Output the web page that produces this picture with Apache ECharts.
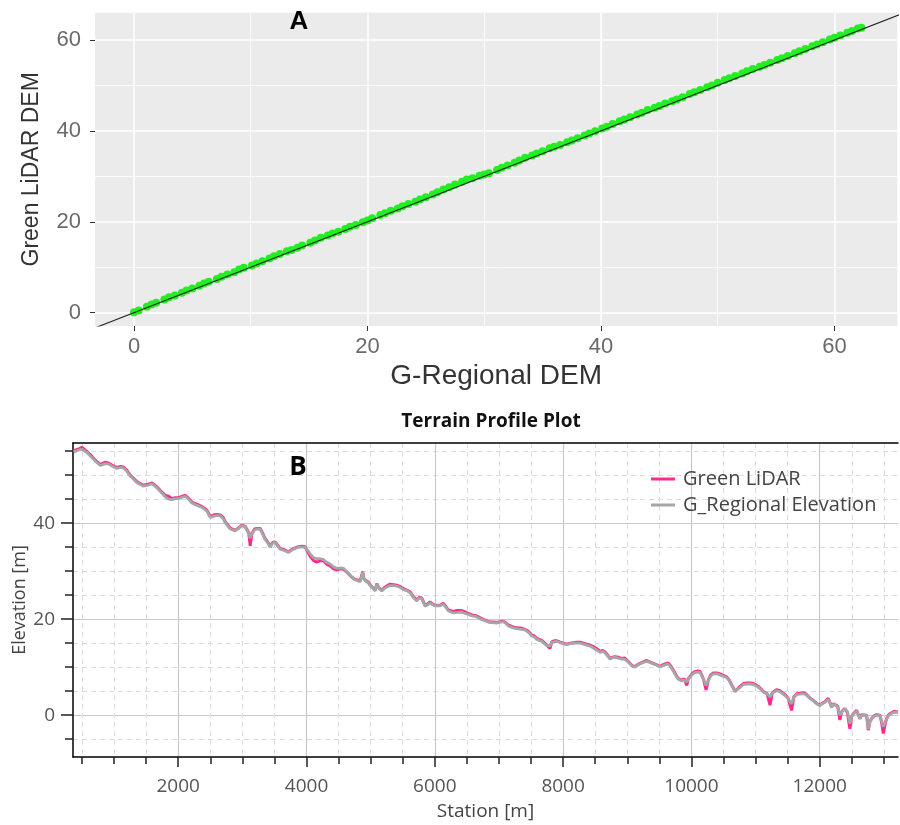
<!DOCTYPE html>
<html>
<head>
<meta charset="utf-8">
<script src="https://cdn.jsdelivr.net/npm/echarts@6/dist/echarts.min.js"></script>
<style>html,body{margin:0;padding:0;background:#fff}#c{width:900px;height:825px}</style>
</head>
<body>
<div id="c"></div>
<script>
// ---------- Panel A: scatter G-Regional DEM vs Green LiDAR DEM ----------
const regionalDEM = [0.0,0.4,1.1,1.5,1.9,2.6,3.0,3.5,4.1,4.5,5.0,5.6,6.0,6.4,7.1,7.5,8.0,8.6,9.0,9.4,10.1,10.5,11.0,11.6,12.0,12.5,13.1,13.5,14.0,14.4,15.1,15.5,16.0,16.6,17.0,17.5,18.1,18.5,19.0,19.6,20.0,20.4,21.1,21.5,22.0,22.6,23.0,23.5,24.1,24.5,25.0,25.6,26.0,26.5,27.0,27.5,28.1,28.5,29.0,29.6,30.0,30.4,31.1,31.5,32.0,32.6,33.0,33.5,34.1,34.5,35.0,35.6,36.0,36.5,37.1,37.5,38.0,38.6,39.0,39.5,40.1,40.5,41.0,41.6,42.0,42.5,43.1,43.5,44.0,44.6,45.0,45.5,46.1,46.5,47.0,47.6,48.0,48.5,49.1,49.5,50.0,50.6,51.0,51.5,52.1,52.5,53.0,53.6,54.0,54.5,55.1,55.5,56.0,56.6,57.0,57.5,58.1,58.5,59.0,59.6,60.0,60.5,61.1,61.5,62.0,62.3];
const lidarDEM = [0.1,0.5,1.3,1.8,2.2,2.9,3.4,3.8,4.4,4.9,5.3,5.9,6.4,6.8,7.4,7.9,8.4,8.9,9.5,9.9,10.4,10.8,11.3,11.9,12.4,12.9,13.5,13.8,14.3,14.8,15.4,15.9,16.5,17.0,17.4,17.8,18.4,18.9,19.3,19.9,20.3,20.8,21.5,21.9,22.4,22.9,23.4,23.9,24.4,24.9,25.4,26.0,26.5,27.1,27.6,28.2,28.8,29.3,29.6,30.1,30.4,30.7,31.4,31.9,32.4,33.0,33.5,34.1,34.6,35.0,35.5,36.2,36.5,36.9,37.5,37.9,38.4,39.0,39.4,39.9,40.5,40.9,41.5,42.1,42.5,43.0,43.6,44.0,44.6,45.1,45.5,46.0,46.5,46.9,47.4,48.1,48.5,49.0,49.6,50.0,50.6,51.2,51.6,52.1,52.6,53.1,53.6,54.1,54.5,55.0,55.6,56.0,56.5,57.1,57.5,58.0,58.6,59.0,59.5,60.1,60.5,61.0,61.6,62.0,62.5,62.7];
const oneToOne = [-5, 70];
const demTicks = [0, 20, 40, 60];
const demMinor = [10, 30, 50];

// ---------- Panel B: terrain profile ----------
const station = [369,440,500,578,630,680,735,785,863,920,
967,1045,1100,1148,1200,1252,1300,1357,1460,1530,
1590,1640,1693,1750,1797,1850,1902,1950,2005,2060,
2109,2160,2213,2260,2316,2380,2447,2499,2550,2603,
2654,2700,2732,2810,2888,2940,2992,3040,3070,3100,
3122,3148,3190,3226,3278,3320,3355,3400,3433,3470,
3511,3550,3589,3650,3718,3760,3796,3874,3930,3978,
4020,4057,4110,4161,4220,4264,4320,4368,4420,4473,
4530,4576,4630,4680,4720,4758,4836,4877,4890,4914,
4960,4992,5030,5070,5096,5130,5174,5225,5303,5360,
5407,5460,5511,5570,5615,5666,5719,5760,5797,5848,
5890,5926,5970,6004,6082,6134,6170,6212,6290,6350,
6417,6470,6523,6580,6627,6680,6731,6800,6861,6910,
6964,7020,7068,7110,7146,7200,7250,7300,7354,7400,
7432,7470,7511,7550,7589,7630,7667,7700,7745,7796,
7822,7860,7900,7940,7978,8056,8110,8160,8210,8263,
8320,8367,8420,8471,8520,8575,8615,8652,8690,8731,
8770,8809,8860,8913,8960,8991,9030,9069,9120,9160,
9198,9250,9302,9350,9405,9460,9510,9570,9639,9680,
9717,9760,9795,9848,9890,9927,9950,9979,10020,10058,
10100,10136,10186,10228,10264,10300,10342,10400,10446,10500,
10550,10590,10628,10680,10720,10758,10810,10862,10920,10966,
11010,11043,11090,11121,11180,11225,11260,11326,11380,11430,
11480,11508,11560,11596,11640,11690,11730,11768,11810,11846,
11890,11924,11960,12002,12040,12080,12132,12160,12184,12210,
12236,12280,12314,12340,12392,12430,12470,12500,12522,12575,
12627,12650,12679,12731,12757,12780,12809,12850,12887,12939,
12965,12991,13020,13043,13080,13121,13160,13220];
const gRegional = [54.8,55.2,55.4,54.7,54.0,53.3,52.6,52.0,52.4,52.3,
51.9,51.4,51.6,51.5,50.8,49.8,49.2,48.4,47.7,47.9,
48.2,47.7,47.0,46.2,45.5,45.0,44.9,45.1,45.1,45.4,
45.6,45.0,44.2,43.9,43.6,43.2,42.5,41.2,41.4,41.6,
41.5,41.0,40.1,38.8,38.4,38.9,39.5,39.3,39.0,37.8,
36.9,37.7,38.6,38.8,38.7,37.6,36.6,35.8,35.0,35.8,
36.0,35.2,34.6,34.3,33.9,34.3,34.6,35.0,35.0,35.0,
34.3,33.6,32.8,32.6,32.6,32.4,31.8,31.5,30.9,30.6,
30.7,30.6,29.9,29.2,28.6,28.2,27.8,29.8,28.5,28.0,
27.6,27.0,26.5,25.9,27.3,26.4,25.9,26.5,27.0,27.0,
26.9,26.6,26.2,25.9,25.5,24.5,23.8,24.5,24.2,22.7,
23.0,23.4,23.0,22.8,22.8,23.1,22.5,21.7,21.3,21.4,
21.5,21.2,21.0,20.7,20.6,20.3,19.9,19.6,19.3,19.3,
19.2,19.4,19.5,19.1,18.6,18.3,18.1,18.0,17.9,17.8,
17.5,17.1,16.5,16.3,15.8,15.6,15.4,15.0,14.5,14.4,
15.2,15.3,15.4,15.2,15.0,14.7,14.9,15.0,15.0,15.0,
14.8,14.6,14.4,14.0,13.6,13.1,13.3,13.0,12.4,11.7,
12.0,12.1,11.9,11.7,11.7,11.3,10.9,10.3,10.0,10.4,
10.7,11.0,11.2,11.0,10.7,10.4,10.1,10.4,10.7,10.0,
9.2,8.2,7.5,7.2,7.4,6.9,7.5,8.0,8.6,8.9,
9.0,8.9,7.5,6.2,7.2,8.2,8.6,8.6,8.4,8.1,
7.8,7.2,6.2,4.9,5.4,5.8,6.4,6.5,6.5,6.4,
6.1,5.8,5.3,4.8,4.4,3.8,4.6,5.1,4.9,4.4,
3.9,3.4,2.4,3.7,4.3,4.4,4.5,4.4,4.0,3.5,
3.1,2.7,2.3,2.0,2.4,2.7,3.3,2.5,1.6,2.3,
2.6,1.8,0.0,0.6,1.3,0.8,-1.7,-0.3,0.2,0.9,
-0.7,0.0,0.2,-0.1,-2.9,-1.5,-0.7,-0.2,0.0,-0.1,
-1.2,-2.4,-1.5,-0.7,0.0,0.4,0.6,0.6];
const greenLidar = [55.1,55.4,55.8,54.9,54.3,53.5,52.8,52.2,52.7,52.5,
52.1,51.6,51.8,51.7,51.0,50.0,49.4,48.6,47.9,48.1,
48.4,47.9,47.2,46.4,45.8,45.6,45.1,45.3,45.3,45.6,
45.8,45.2,44.4,44.1,43.8,43.4,42.7,41.4,41.7,41.8,
41.7,41.2,40.3,39.0,38.5,39.0,39.6,39.4,39.2,38.0,
35.3,37.8,38.8,38.9,38.9,37.8,36.8,36.0,35.1,36.0,
36.1,35.4,34.7,34.5,34.0,34.4,34.7,35.1,35.2,35.1,
34.0,33.1,32.2,31.9,32.2,32.2,31.4,31.1,30.5,30.3,
30.5,30.4,29.8,29.1,28.6,28.3,28.0,29.9,28.6,28.1,
27.8,27.1,26.6,26.0,27.4,26.5,26.0,26.7,27.3,27.2,
27.1,26.8,26.4,26.0,25.7,24.7,24.0,24.6,24.4,22.9,
23.2,23.6,23.1,22.9,22.9,23.3,22.7,21.9,21.6,21.8,
21.8,21.5,21.2,20.9,20.8,20.5,20.1,19.7,19.4,19.4,
19.3,19.5,19.6,19.2,18.8,18.5,18.3,18.2,18.1,17.9,
17.7,17.3,16.7,16.5,16.0,15.8,15.6,15.2,14.6,13.9,
15.3,15.5,15.5,15.3,15.1,14.8,15.0,15.1,15.2,15.2,
15.0,14.8,14.6,14.3,13.9,13.3,13.5,13.2,12.6,11.8,
12.1,12.2,12.1,11.8,11.9,11.5,11.0,10.4,10.1,10.5,
10.8,11.1,11.4,11.1,10.8,10.5,10.2,10.6,10.9,10.2,
9.4,8.4,7.6,7.3,7.6,6.2,7.6,8.1,8.8,9.1,
9.2,9.1,7.6,5.3,7.3,8.4,8.8,8.8,8.6,8.3,
8.0,7.3,6.3,5.0,5.5,6.0,6.6,6.7,6.7,6.6,
6.3,6.0,5.4,4.9,4.5,2.1,4.7,5.3,5.1,4.6,
4.0,3.5,1.0,3.8,4.5,4.6,4.7,4.6,4.1,3.6,
3.2,2.8,2.4,2.1,2.5,2.8,3.5,2.6,1.7,2.4,
2.8,1.9,-1.0,0.7,1.4,0.6,-2.8,-0.2,0.3,1.0,
-0.7,0.1,0.3,0.0,-3.1,-1.4,-0.7,-0.1,0.1,0.0,
-1.5,-3.8,-1.8,-0.7,0.2,0.5,0.8,0.7];
const stationTicks = [2000, 4000, 6000, 8000, 10000, 12000];
const stationMinor = [500,1000,1500,2500,3000,3500,4500,5000,5500,6500,7000,7500,8500,9000,9500,10500,11000,11500,12500,13000];
const elevTicks = [0, 20, 40];
const elevMinor = [-5,5,10,15,25,30,35,45,50,55];

const zip = (a, b) => a.map((v, i) => [v, b[i]]);

const chart = echarts.init(document.getElementById('c'), null, {renderer: 'canvas'});
const SANS = '"Liberation Sans", Arial, sans-serif';
const OPEN = '"Open Sans", "Noto Sans", sans-serif';

const XA = {min: -3.34, max: 65.38};
const YA = {min: -2.93, max: 66.0};
const XB = {min: 360, max: 13220};
const YB = {min: -8.7, max: 56.7};

chart.setOption({
  animation: false,
  grid: [
    {left: 95, top: 12.7, width: 802.3, height: 313.3, show: true, backgroundColor: '#ebebeb', borderWidth: 0, outerBoundsMode: 'none', containLabel: false},
    {left: 73, top: 443, width: 825, height: 314, show: false, outerBoundsMode: 'none', containLabel: false}
  ],
  legend: {
    data: ['Green LiDAR', 'G_Regional Elevation'],
    orient: 'vertical', left: 651, top: 469, padding: 0,
    itemWidth: 24, itemHeight: 3, itemGap: 6, icon: 'rect',
    textStyle: {fontFamily: OPEN, fontSize: 20, color: '#444', padding: [0, 0, 0, 3]}
  },
  xAxis: [
    {gridIndex: 0, type: 'value', position: 'bottom', min: XA.min, max: XA.max,
      axisLine: {show: false, onZero: false},
      axisTick: {show: true, length: 5, lineStyle: {color: '#333'}, customValues: demTicks},
      axisLabel: {customValues: demTicks, fontFamily: SANS, fontSize: 22, color: '#6b6b6b', margin: 10, formatter: v => String(v)},
      splitLine: {show: true, lineStyle: {color: '#ffffff', width: 1.5}},
      name: 'G-Regional DEM', nameLocation: 'middle', nameGap: 36,
      nameTextStyle: {fontFamily: SANS, fontSize: 28, color: '#333'}},
    {gridIndex: 0, type: 'value', position: 'bottom', min: XA.min, max: XA.max,
      axisLine: {show: false, onZero: false},
      axisTick: {show: false, customValues: demMinor},
      axisLabel: {show: false},
      splitLine: {show: true, lineStyle: {color: '#ffffff', width: 0.8}}},
    {gridIndex: 1, type: 'value', position: 'bottom', min: XB.min, max: XB.max,
      axisLine: {show: true, onZero: false, lineStyle: {color: '#000', width: 1.5}},
      axisTick: {show: true, length: 10, lineStyle: {color: '#222', width: 1.5}, customValues: stationTicks},
      axisLabel: {customValues: stationTicks, fontFamily: OPEN, fontSize: 19, color: '#555', margin: 20, formatter: v => String(v)},
      splitLine: {show: true, lineStyle: {color: '#c8c8c8', width: 1.2}},
      name: 'Station [m]', nameLocation: 'middle', nameGap: 45,
      nameTextStyle: {fontFamily: OPEN, fontSize: 19, color: '#444'}},
    {gridIndex: 1, type: 'value', position: 'bottom', min: XB.min, max: XB.max,
      axisLine: {show: false, onZero: false},
      axisTick: {show: true, length: 7, lineStyle: {color: '#222', width: 1.5}, customValues: stationMinor},
      axisLabel: {show: false},
      splitLine: {show: true, lineStyle: {color: '#dcdcdc', width: 1, type: [5, 4]}}},
    {gridIndex: 1, type: 'value', position: 'top', min: XB.min, max: XB.max,
      axisLine: {show: true, onZero: false, lineStyle: {color: '#000', width: 1.5}},
      axisTick: {show: false}, axisLabel: {show: false}, splitLine: {show: false}}
  ],
  yAxis: [
    {gridIndex: 0, type: 'value', position: 'left', min: YA.min, max: YA.max,
      axisLine: {show: false, onZero: false},
      axisTick: {show: true, length: 5, lineStyle: {color: '#333'}, customValues: demTicks},
      axisLabel: {customValues: demTicks, fontFamily: SANS, fontSize: 22, color: '#6b6b6b', margin: 14, formatter: v => String(v)},
      splitLine: {show: true, lineStyle: {color: '#ffffff', width: 1.5}},
      name: 'Green LiDAR DEM', nameLocation: 'middle', nameGap: 52,
      nameTextStyle: {fontFamily: SANS, fontSize: 23, color: '#333'}},
    {gridIndex: 0, type: 'value', position: 'left', min: YA.min, max: YA.max,
      axisLine: {show: false, onZero: false},
      axisTick: {show: false, customValues: demMinor},
      axisLabel: {show: false},
      splitLine: {show: true, lineStyle: {color: '#ffffff', width: 0.8}}},
    {gridIndex: 1, type: 'value', position: 'left', min: YB.min, max: YB.max,
      axisLine: {show: true, onZero: false, lineStyle: {color: '#000', width: 1.5}},
      axisTick: {show: true, length: 12, lineStyle: {color: '#222', width: 1.5}, customValues: elevTicks},
      axisLabel: {customValues: elevTicks, fontFamily: OPEN, fontSize: 19, color: '#555', margin: 18, formatter: v => String(v)},
      splitLine: {show: true, lineStyle: {color: '#c8c8c8', width: 1.2}},
      name: 'Elevation [m]', nameLocation: 'middle', nameGap: 44, nameMoveOverlap: false,
      nameTextStyle: {fontFamily: OPEN, fontSize: 18, color: '#444'}},
    {gridIndex: 1, type: 'value', position: 'left', min: YB.min, max: YB.max,
      axisLine: {show: false, onZero: false},
      axisTick: {show: true, length: 8, lineStyle: {color: '#222', width: 1.5}, customValues: elevMinor},
      axisLabel: {show: false},
      splitLine: {show: true, lineStyle: {color: '#dcdcdc', width: 1, type: [5, 4]}}}
  ],
  series: [
    {type: 'scatter', name: 'DEM pairs', xAxisIndex: 0, yAxisIndex: 0,
      data: zip(regionalDEM, lidarDEM), symbolSize: 8,
      itemStyle: {color: '#22ee22', opacity: 1}, z: 3},
    {type: 'line', name: '1:1', xAxisIndex: 0, yAxisIndex: 0,
      data: zip(oneToOne, oneToOne), symbol: 'none', clip: true,
      lineStyle: {color: '#222', width: 1.1}, z: 4},
    {type: 'line', name: 'Green LiDAR', xAxisIndex: 2, yAxisIndex: 2,
      data: zip(station, greenLidar), symbol: 'none', clip: true,
      lineStyle: {color: '#ff2a8c', width: 3}, itemStyle: {color: '#ff2a8c'}, z: 3},
    {type: 'line', name: 'G_Regional Elevation', xAxisIndex: 2, yAxisIndex: 2,
      data: zip(station, gRegional), symbol: 'none', clip: true,
      lineStyle: {color: '#a6a6a6', width: 2.8}, itemStyle: {color: '#a6a6a6'}, z: 4}
  ],
  graphic: [
    {type: 'text', x: 299, y: 22, z: 10, style: {text: 'A', fontFamily: SANS, fontWeight: 'bold', fontSize: 26, fill: '#000', align: 'center', verticalAlign: 'middle'}},
    {type: 'text', x: 298, y: 468, z: 10, style: {text: 'B', fontFamily: OPEN, fontWeight: 'bold', fontSize: 26, fill: '#000', align: 'center', verticalAlign: 'middle'}},
    {type: 'text', x: 491, y: 422, z: 10, style: {text: 'Terrain Profile Plot', fontFamily: OPEN, fontWeight: 'bold', fontSize: 19, fill: '#111', align: 'center', verticalAlign: 'middle'}}
  ]
});
</script>
</body>
</html>
